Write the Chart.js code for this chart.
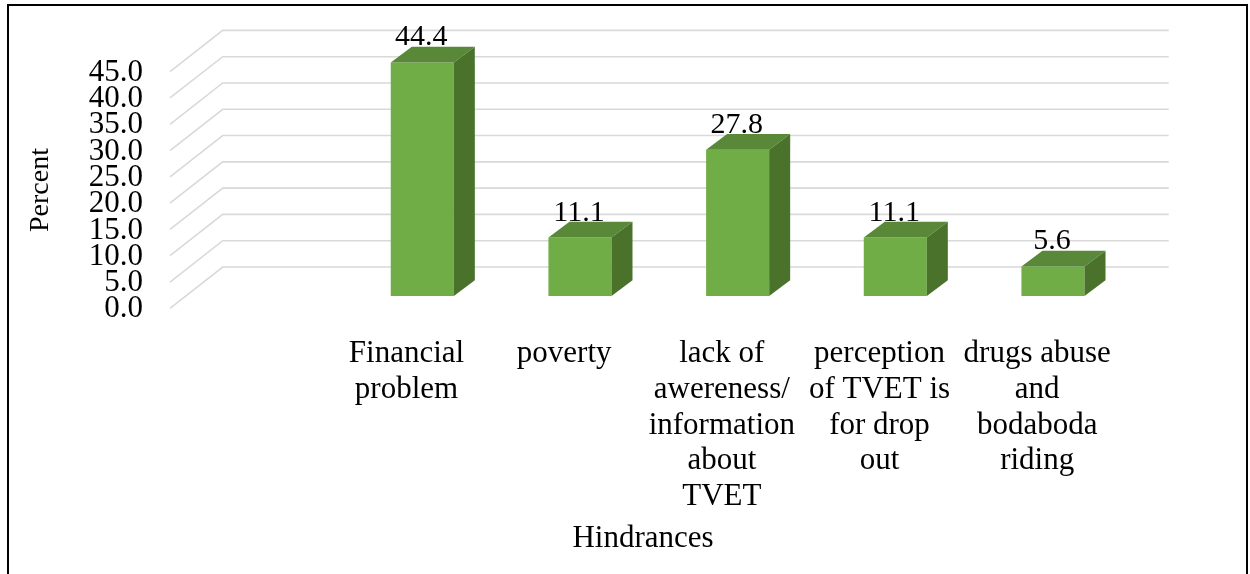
<!DOCTYPE html>
<html>
<head>
<meta charset="utf-8">
<style>
  html, body { margin: 0; padding: 0; background: #ffffff; }
  #wrap { width: 1250px; height: 574px; position: relative; overflow: hidden; }
  canvas { display: block; }
</style>
<script src="https://cdn.jsdelivr.net/npm/chart.js@4.4.1/dist/chart.umd.min.js"></script>
</head>
<body>
<div id="wrap"><canvas id="chart" width="1250" height="574"></canvas></div>
<script>
// Categories (the first slot is an empty column, as in the source sheet)
const categories = [
  '',
  ['Financial', 'problem'],
  'poverty',
  ['lack of', 'awereness/', 'information', 'about', 'TVET'],
  ['perception', 'of TVET is', 'for drop', 'out'],
  ['drugs abuse', 'and', 'bodaboda', 'riding']
];

// Percent of respondents per hindrance
const percentValues = [null, 44.4, 11.1, 27.8, 11.1, 5.6];

// Value-axis ticks
const yTickValues = [0, 5, 10, 15, 20, 25, 30, 35, 40, 45];

const SERIF = "'Times New Roman', 'Liberation Serif', serif";

// 3D geometry: floor depth, bar position inside the depth, bar thickness
const FLOOR_DEPTH = { x: 52.7, y: -41.3 };
const BAR_SHIFT = { x: 15.8, y: -12.4 };
const BAR_DEPTH = { x: 21, y: -15.7 };

const COLORS = {
  front: '#70AD47',
  top: '#588838',
  side: '#4A722B',
  grid: '#D9D9D9',
  text: '#000000'
};

const threeD = {
  id: 'threeD',
  beforeDatasetsDraw(chart) {
    const { ctx, chartArea } = chart;
    const y = chart.scales.y;
    // perspective gridlines: diagonal on the side wall, then along the back wall
    ctx.save();
    ctx.strokeStyle = COLORS.grid;
    ctx.lineWidth = 1.6;
    y.ticks.forEach(t => {
      const py = y.getPixelForValue(t.value);
      ctx.beginPath();
      ctx.moveTo(chartArea.left, py);
      ctx.lineTo(chartArea.left + FLOOR_DEPTH.x, py + FLOOR_DEPTH.y);
      ctx.lineTo(chartArea.right + FLOOR_DEPTH.x, py + FLOOR_DEPTH.y);
      ctx.stroke();
    });
    ctx.restore();
    // bars sit partway into the depth of the floor
    ctx.save();
    ctx.translate(BAR_SHIFT.x, BAR_SHIFT.y);
  },
  afterDatasetsDraw(chart) {
    const { ctx } = chart;
    const meta = chart.getDatasetMeta(0);
    const values = chart.data.datasets[0].data;
    meta.data.forEach((bar, i) => {
      const v = values[i];
      if (v === null || v === undefined) return;
      const { x, y, base, width } = bar.getProps(['x', 'y', 'base', 'width'], true);
      const l = x - width / 2, r = x + width / 2;
      // top face
      ctx.fillStyle = COLORS.top;
      ctx.beginPath();
      ctx.moveTo(l, y);
      ctx.lineTo(r, y);
      ctx.lineTo(r + BAR_DEPTH.x, y + BAR_DEPTH.y);
      ctx.lineTo(l + BAR_DEPTH.x, y + BAR_DEPTH.y);
      ctx.closePath();
      ctx.fill();
      // right side face
      ctx.fillStyle = COLORS.side;
      ctx.beginPath();
      ctx.moveTo(r, y);
      ctx.lineTo(r + BAR_DEPTH.x, y + BAR_DEPTH.y);
      ctx.lineTo(r + BAR_DEPTH.x, base + BAR_DEPTH.y);
      ctx.lineTo(r, base);
      ctx.closePath();
      ctx.fill();
      // value label
      ctx.fillStyle = COLORS.text;
      ctx.font = '30px ' + SERIF;
      ctx.textAlign = 'center';
      ctx.textBaseline = 'alphabetic';
      ctx.fillText(v.toFixed(1), x - 1, y - 17);
    });
    ctx.restore();
  },
  afterDraw(chart) {
    const { ctx } = chart;
    ctx.save();
    ctx.strokeStyle = '#000000';
    ctx.lineWidth = 2;
    ctx.strokeRect(8, 5, 1239, 700);
    ctx.restore();
  }
};

Chart.defaults.font.family = SERIF;
Chart.defaults.color = COLORS.text;

new Chart(document.getElementById('chart'), {
  type: 'bar',
  data: {
    labels: categories,
    datasets: [{
      label: 'Percent',
      data: percentValues,
      backgroundColor: COLORS.front,
      borderWidth: 0,
      categoryPercentage: 1,
      barPercentage: 0.4,
      clip: false
    }]
  },
  options: {
    responsive: false,
    animation: false,
    events: [],
    devicePixelRatio: 1,
    layout: { padding: { top: 71.7, right: 134, bottom: 0, left: 0 } },
    plugins: {
      legend: { display: false },
      tooltip: { enabled: false },
      title: { display: false }
    },
    scales: {
      x: {
        grid: { display: false },
        border: { display: false },
        ticks: {
          autoSkip: false,
          maxRotation: 0,
          minRotation: 0,
          padding: 19.5,
          color: COLORS.text,
          font: { size: 31, lineHeight: 1.157 }
        },
        title: {
          display: true,
          text: 'Hindrances',
          color: COLORS.text,
          font: { size: 31, lineHeight: 1.2 },
          padding: { top: 0, bottom: 16.5 }
        },
        afterFit(scale) { scale.height = 265.7; }
      },
      y: {
        min: 0,
        max: 45,
        grid: { display: false, drawTicks: false },
        border: { display: false },
        afterBuildTicks(scale) {
          scale.ticks = yTickValues.map(v => ({ value: v }));
        },
        ticks: {
          autoSkip: false,
          padding: 27,
          labelOffset: 1,
          color: COLORS.text,
          font: { size: 31, lineHeight: 0.85 },
          callback: v => Number(v).toFixed(1)
        },
        title: {
          display: true,
          text: 'Percent',
          color: COLORS.text,
          font: { size: 28, lineHeight: 1.2 },
          padding: { top: 24.3, bottom: 0 }
        },
        afterFit(scale) { scale.width = 170; }
      }
    }
  },
  plugins: [threeD]
});
</script>
</body>
</html>
